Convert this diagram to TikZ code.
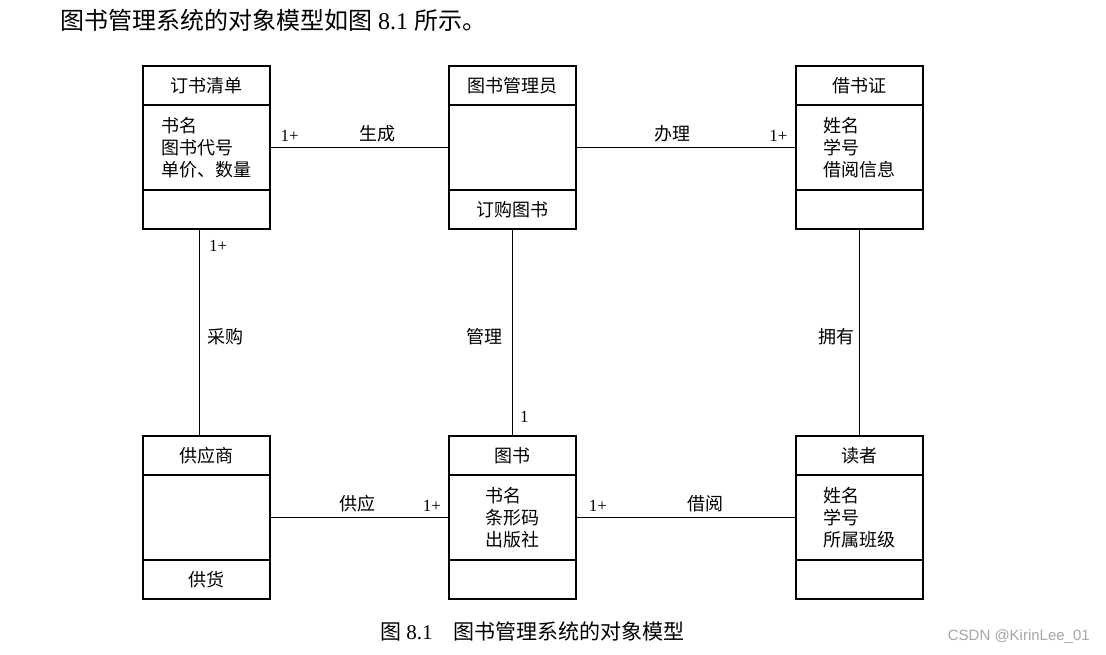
\documentclass[tikz,border=0pt]{standalone}
\usepackage{fontspec}
\setmainfont{Liberation Serif}
\newfontfamily\cjk{Noto Sans CJK SC}
\newfontfamily\wmfont{Liberation Sans}
\usetikzlibrary{positioning}
\def\Dingdan{订书清单}
\def\Guanliyuan{图书管理员}
\def\Jieshuzheng{借书证}
\def\Gongyingshang{供应商}
\def\Tushu{图书}
\def\Duzhe{读者}
% name, top left corner, title, attributes, operations
\newcommand{\umlclass}[5]{%
    \node[classtitle, anchor=north west] (#1) at (#2) {#3};
    \node[classattr, below=0pt of #1] (#1-attr) {#4};
    \node[classop, below=0pt of #1-attr] (#1-op) {#5};
}
\newcommand{\assoc}[2]{\draw[assoc] (#1) -- (#2)}

\begin{document}
\begin{tikzpicture}[x=1pt, y=-1pt,
                    classpart/.style={
                        draw, line width=1.1pt,
                        outer sep=0pt, inner sep=0pt,
                        minimum width=127pt,
                        font=\cjk\fontsize{18}{22}\selectfont
                    },
                    classtitle/.style={classpart, minimum height=39pt},
                    classattr/.style={classpart, minimum height=85pt, align=left},
                    classop/.style={classpart, minimum height=39pt},
                    assoc/.style={line width=1.1pt},
                    mult/.style={font=\fontsize{17}{17}\selectfont, inner sep=2pt},
                    rel/.style={font=\cjk\fontsize{18}{18}\selectfont, inner sep=2pt}]
    \useasboundingbox (0,0) rectangle (1106,655);

    \node[anchor=west, inner sep=0pt, font=\fontsize{24}{24}\selectfont] (intro) at (60,20)
        {{\cjk 图书管理系统的对象模型如图} 8.1 {\cjk 所示。}};

    \umlclass{order}{143,66}{\Dingdan}{书名\\图书代号\\单价、数量}{};
    \umlclass{admin}{449,66}{\Guanliyuan}{}{订购图书};
    \umlclass{card}{796,66}{\Jieshuzheng}{姓名\\学号\\借阅信息}{};
    \umlclass{supplier}{143,436}{\Gongyingshang}{}{供货};
    \umlclass{book}{449,436}{\Tushu}{书名\\条形码\\出版社}{};
    \umlclass{reader}{796,436}{\Duzhe}{姓名\\学号\\所属班级}{};

    \assoc{order-attr.east}{admin-attr.west}
        node[mult, pos=0.11, above=3pt] {1+}
        node[rel, pos=0.6, above=3pt] {生成};
    \assoc{admin-attr.east}{card-attr.west}
        node[rel, pos=0.44, above=3pt] {办理}
        node[mult, pos=0.92, above=3pt] {1+};
    \assoc{supplier-attr.east}{book-attr.west}
        node[rel, pos=0.49, above=3pt] {供应}
        node[mult, pos=0.905, above=3pt] {1+};
    \assoc{book-attr.east}{reader-attr.west}
        node[mult, pos=0.1, above=3pt] {1+}
        node[rel, pos=0.59, above=3pt] {借阅};

    \assoc{[xshift=-7pt]order-op.south}{[xshift=-7pt]supplier.north}
        node[mult, pos=0.08, right=7pt] {1+}
        node[rel, pos=0.52, right=5pt] {采购};
    \assoc{admin-op.south}{book.north}
        node[rel, pos=0.52, left=7pt] {管理}
        node[mult, pos=0.91, right=5pt] {1};
    \assoc{card-op.south}{reader.north}
        node[rel, pos=0.52, left=2pt] {拥有};

    \node[anchor=west, inner sep=0pt, font=\fontsize{21}{21}\selectfont] (caption) at (380,631)
        {{\cjk 图} 8.1{\cjk 　图书管理系统的对象模型}};
    \node[anchor=east, inner sep=0pt, text=black!35, font=\wmfont\fontsize{15}{15}\selectfont] (mark) at (1090,637)
        {CSDN @KirinLee\_01};
\end{tikzpicture}
\end{document}
